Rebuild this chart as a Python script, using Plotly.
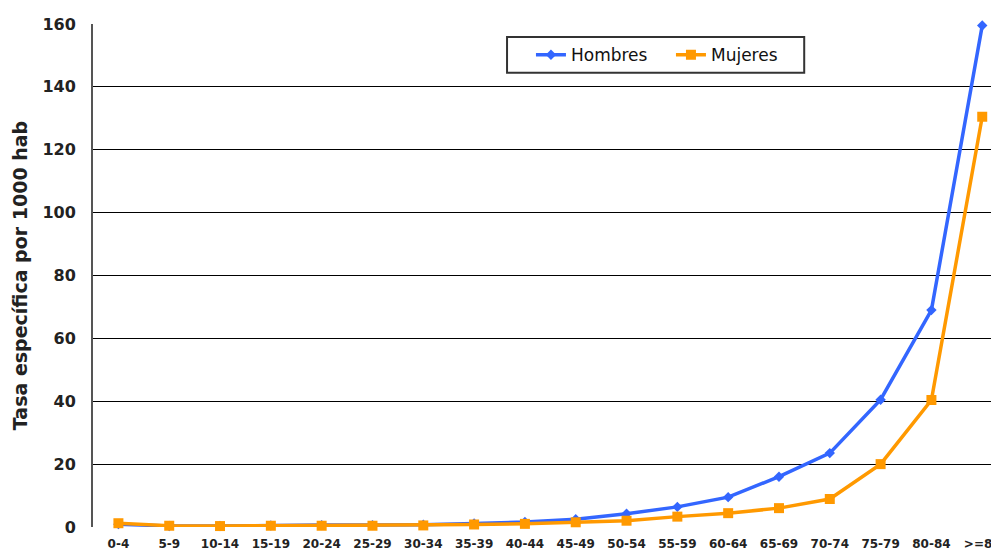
import plotly.graph_objects as go

categorias = ["0-4", "5-9", "10-14", "15-19", "20-24", "25-29", "30-34", "35-39", "40-44",
              "45-49", "50-54", "55-59", "60-64", "65-69", "70-74", "75-79", "80-84", ">=85"]
hombres = [0.9, 0.3, 0.3, 0.5, 0.6, 0.6, 0.7, 1.1, 1.6, 2.5, 4.2, 6.4, 9.5, 16.0, 23.5, 40.5, 69.0, 159.5]
mujeres = [1.2, 0.4, 0.3, 0.4, 0.4, 0.4, 0.5, 0.8, 1.0, 1.5, 2.0, 3.3, 4.4, 6.0, 8.9, 20.0, 40.4, 130.5]
yticks = [0, 20, 40, 60, 80, 100, 120, 140, 160]

FONT = "DejaVu Sans, Verdana, sans-serif"

fig = go.Figure()
fig.add_trace(go.Scatter(
    x=list(range(len(categorias))), y=hombres, name="Hombres", mode="lines+markers",
    line=dict(color="#3366FF", width=3.5),
    marker=dict(symbol="diamond", size=8, color="#3366FF"),
    cliponaxis=False))
fig.add_trace(go.Scatter(
    x=list(range(len(categorias))), y=mujeres, name="Mujeres", mode="lines+markers",
    line=dict(color="#FF9900", width=3.5),
    marker=dict(symbol="square", size=10, color="#FF9900"),
    cliponaxis=False))

# page body has an 8px offset; figure is sized to fit inside the window
fig.update_layout(
    width=991, height=546,
    margin=dict(l=85, r=0, t=16, b=27, autoexpand=False),
    plot_bgcolor="white", paper_bgcolor="white",
    font=dict(family=FONT, color="#000000"),
    showlegend=True,
    legend=dict(orientation="h", x=0.4834, y=0.938, xanchor="left", yanchor="middle",
                borderwidth=0, bgcolor="rgba(0,0,0,0)",
                font=dict(size=17, family=FONT, color="#111111"), itemwidth=30,
                entrywidth=95),
    shapes=[dict(type="rect", xref="paper", yref="paper",
                 x0=0.457, x1=0.785, y0=0.903, y1=0.974,
                 line=dict(color="#333333", width=2), fillcolor="white", layer="below")],
)
fig.update_xaxes(
    tickmode="array", tickvals=list(range(len(categorias))), ticktext=categorias,
    range=[-0.5, 17.33], showgrid=False, zeroline=False, automargin=False,
    showline=False, ticks="", ticklabeloverflow="allow", ticklabelstandoff=8,
    tickfont=dict(size=12, family=FONT, weight="bold", color="#222222"), tickangle=0)
fig.update_yaxes(
    range=[0, 160], tickmode="array", tickvals=yticks, automargin=False,
    showgrid=True, gridcolor="#000000", gridwidth=1.3,
    zeroline=False, showline=True, linecolor="#555555", linewidth=2,
    ticks="", ticklabelstandoff=12,
    tickfont=dict(size=16, family=FONT, weight="bold", color="#222222"),
    title=dict(text="Tasa específica por 1000 hab",
               font=dict(size=19, family=FONT, weight="bold", color="#222222"), standoff=10))

fig.write_html("out.html")
